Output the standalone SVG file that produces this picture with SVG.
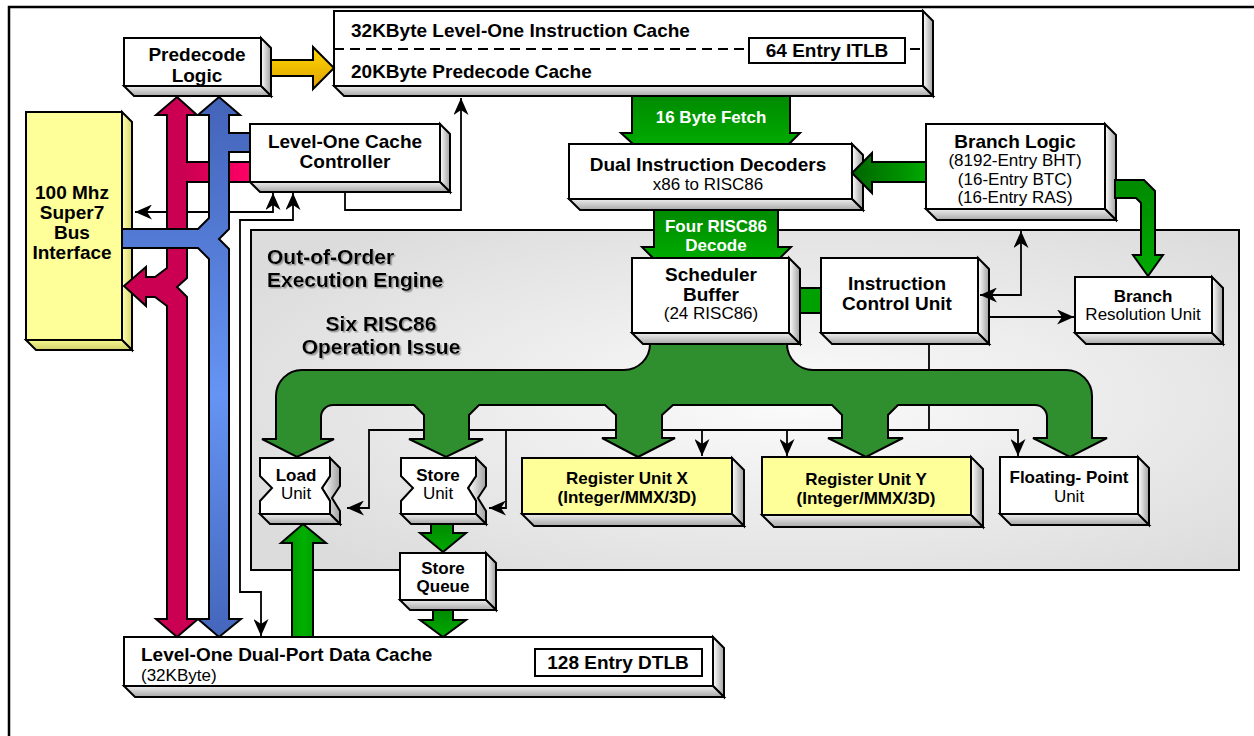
<svg xmlns="http://www.w3.org/2000/svg" width="1254" height="736" viewBox="0 0 1254 736">
<defs>
<style>
.f{fill:#fff;stroke:#000;stroke-width:2}
.fy{fill:#ffff99;stroke:#000;stroke-width:2}
.rs{fill:url(#gR);stroke:#000;stroke-width:2}
.bs{fill:url(#gBt);stroke:#000;stroke-width:2}
.rsy{fill:url(#gRY);stroke:#000;stroke-width:2}
.bsy{fill:url(#gBY);stroke:#000;stroke-width:2}
.pl{fill:#fff;stroke:#000;stroke-width:2}
text{font-family:"Liberation Sans",Arial,Helvetica,sans-serif;fill:#000}
.t19{font-size:19px;font-weight:bold}
.t17{font-size:17px;font-weight:bold}
.r17{font-size:17px}
.t21{font-size:21px;font-weight:bold}
.wt{font-size:17px;font-weight:bold;fill:#fff}
.m{text-anchor:middle}
.ln{fill:none;stroke:#000;stroke-width:1.8}
.ah{marker-end:url(#arr)}
.ah2{marker-start:url(#arr);marker-end:url(#arr)}
.th{stroke:#000;stroke-width:2}
</style>
<marker id="arr" viewBox="0 0 17 15" refX="17" refY="7.5" markerWidth="17" markerHeight="15" markerUnits="userSpaceOnUse" orient="auto-start-reverse">
<path d="M0,0 L17,7.5 L0,15 L5,7.5 Z" fill="#000"/>
</marker>
<linearGradient id="gR" x1="0" y1="0" x2="1" y2="0"><stop offset="0" stop-color="#ffffff"/><stop offset="1" stop-color="#a0a0a0"/></linearGradient>
<linearGradient id="gBt" x1="0" y1="0" x2="0" y2="1"><stop offset="0" stop-color="#eeeeee"/><stop offset="1" stop-color="#a8a8a8"/></linearGradient>
<linearGradient id="gRY" x1="0" y1="0" x2="1" y2="0"><stop offset="0" stop-color="#ffffb0"/><stop offset="1" stop-color="#d8d870"/></linearGradient>
<linearGradient id="gBY" x1="0" y1="0" x2="0" y2="1"><stop offset="0" stop-color="#f8f890"/><stop offset="1" stop-color="#d0d068"/></linearGradient>
<radialGradient id="gP" cx="0.55" cy="0.5" r="0.65"><stop offset="0" stop-color="#fbfbfb"/><stop offset="1" stop-color="#dcdcdc"/></radialGradient>
<linearGradient id="gG" x1="0" y1="0" x2="0" y2="1"><stop offset="0" stop-color="#008a00"/><stop offset="1" stop-color="#00aa00"/></linearGradient>
<linearGradient id="gGh" x1="0" y1="0" x2="1" y2="0"><stop offset="0" stop-color="#006400"/><stop offset="1" stop-color="#00a800"/></linearGradient>
<linearGradient id="gGv" x1="0" y1="0" x2="1" y2="0"><stop offset="0" stop-color="#008800"/><stop offset="0.5" stop-color="#00b000"/><stop offset="1" stop-color="#008800"/></linearGradient>
<linearGradient id="gY" x1="0" y1="0" x2="0" y2="1"><stop offset="0" stop-color="#ffd800"/><stop offset="1" stop-color="#e0a000"/></linearGradient>
<linearGradient id="gBlue" gradientUnits="userSpaceOnUse" x1="0" y1="97" x2="0" y2="637"><stop offset="0" stop-color="#4363b8"/><stop offset="0.55" stop-color="#6594f4"/><stop offset="1" stop-color="#4466bb"/></linearGradient>
<linearGradient id="gRed" gradientUnits="userSpaceOnUse" x1="187" y1="0" x2="250" y2="0"><stop offset="0" stop-color="#cc0052"/><stop offset="1" stop-color="#ff0066"/></linearGradient>
<filter id="sh" x="-5%" y="-20%" width="115%" height="150%"><feDropShadow dx="1.5" dy="1.5" stdDeviation="0.7" flood-color="#9a9a9a"/></filter>
</defs>

<rect id="frame" x="9" y="7" width="1262" height="745" fill="#fff" stroke="#000" stroke-width="2.5"/>

<g id="engine">
<rect x="251" y="230" width="988" height="340" fill="url(#gP)" stroke="#000" stroke-width="2"/>
<g filter="url(#sh)">
<text class="t21" x="267" y="264">Out-of-Order</text>
<text class="t21" x="267" y="287">Execution Engine</text>
<text class="t21 m" x="381" y="331">Six RISC86</text>
<text class="t21 m" x="381" y="354">Operation Issue</text>
</g>
</g>

<g id="nodes">
<g id="predecode-logic">
<polygon class="rs" points="261,38 271,48 271,96 261,86"/>
<polygon class="bs" points="124,86 134,96 271,96 261,86"/>
<rect class="f" x="124" y="38" width="137" height="48"/>
<text class="t19 m" x="197" y="61">Predecode</text>
<text class="t19 m" x="197" y="82">Logic</text>
</g>

<g id="instruction-cache">
<polygon class="rs" points="923,11 933,21 933,96 923,86"/>
<polygon class="bs" points="334,86 344,96 933,96 923,86"/>
<rect class="f" x="334" y="11" width="589" height="75"/>
<line x1="334" y1="49" x2="923" y2="49" stroke="#000" stroke-width="2" stroke-dasharray="10,6"/>
<text class="t19" x="351" y="37">32KByte Level-One Instruction Cache</text>
<text class="t19" x="351" y="78">20KByte Predecode Cache</text>
<rect class="pl" x="749" y="38" width="156" height="25"/>
<text class="t19 m" x="827" y="57">64 Entry ITLB</text>
</g>

<g id="cache-controller">
<polygon class="rs" points="440,124 450,134 450,192 440,182"/>
<polygon class="bs" points="250,182 260,192 450,192 440,182"/>
<rect class="f" x="250" y="124" width="190" height="58"/>
<text class="t19 m" x="345" y="148">Level-One Cache</text>
<text class="t19 m" x="345" y="168">Controller</text>
</g>

<g id="bus-interface">
<polygon class="rsy" points="122,112 132,122 132,350 122,340"/>
<polygon class="bsy" points="26,340 36,350 132,350 122,340"/>
<rect class="fy" x="26" y="112" width="96" height="228"/>
<text class="t19 m" x="72" y="199">100 Mhz</text>
<text class="t19 m" x="72" y="219">Super7</text>
<text class="t19 m" x="72" y="239">Bus</text>
<text class="t19 m" x="72" y="259">Interface</text>
</g>

<g id="decoders">
<polygon class="rs" points="852,144 863,155 863,210 852,199"/>
<polygon class="bs" points="569,199 580,210 863,210 852,199"/>
<rect class="f" x="569" y="144" width="283" height="55"/>
<text class="t19 m" x="708" y="171">Dual Instruction Decoders</text>
<text class="r17 m" x="708" y="190">x86 to RISC86</text>
</g>

<g id="branch-logic">
<polygon class="rs" points="1105,124 1116,135 1116,220 1105,209"/>
<polygon class="bs" points="926,209 937,220 1116,220 1105,209"/>
<rect class="f" x="926" y="124" width="179" height="85"/>
<text class="t19 m" x="1015" y="148">Branch Logic</text>
<text class="r17 m" x="1015" y="166">(8192-Entry BHT)</text>
<text class="r17 m" x="1015" y="185">(16-Entry BTC)</text>
<text class="r17 m" x="1015" y="203">(16-Entry RAS)</text>
</g>

<g id="scheduler-buffer">
<polygon class="rs" points="789,258 800,269 800,344 789,333"/>
<polygon class="bs" points="632,333 643,344 800,344 789,333"/>
<rect class="f" x="632" y="258" width="157" height="75"/>
<text class="t19 m" x="711" y="281">Scheduler</text>
<text class="t19 m" x="711" y="301">Buffer</text>
<text class="r17 m" x="711" y="319">(24 RISC86)</text>
</g>

<g id="instruction-control-unit">
<polygon class="rs" points="978,258 989,269 989,344 978,333"/>
<polygon class="bs" points="821,333 832,344 989,344 978,333"/>
<rect class="f" x="821" y="258" width="157" height="75"/>
<text class="t19 m" x="897" y="290">Instruction</text>
<text class="t19 m" x="897" y="310">Control Unit</text>
</g>

<g id="branch-resolution-unit">
<polygon class="rs" points="1212,277 1223,288 1223,344 1212,333"/>
<polygon class="bs" points="1075,333 1086,344 1223,344 1212,333"/>
<rect class="f" x="1075" y="277" width="137" height="56"/>
<text class="t17 m" x="1143" y="302">Branch</text>
<text class="r17 m" x="1143" y="320">Resolution Unit</text>
</g>

<g id="load-unit">
<polygon class="rs" points="330,458 340,468 340,486 332,498 340,511 340,524 330,514 330,501 322,488 330,476"/>
<polygon class="bs" points="260,514 270,524 340,524 330,514"/>
<polygon class="f" points="260,458 330,458 330,476 322,488 330,501 330,514 260,514 260,501 272,488 260,476"/>
<text class="t17 m" x="296" y="481">Load</text>
<text class="r17 m" x="296" y="499">Unit</text>
</g>

<g id="store-unit">
<polygon class="rs" points="476,458 486,468 486,486 478,498 486,511 486,524 476,514 476,501 468,488 476,476"/>
<polygon class="bs" points="401,514 411,524 486,524 476,514"/>
<polygon class="f" points="401,458 476,458 476,476 468,488 476,501 476,514 401,514 401,501 413,488 401,476"/>
<text class="t17 m" x="438" y="481">Store</text>
<text class="r17 m" x="438" y="499">Unit</text>
</g>

<g id="register-unit-x">
<polygon class="rs" points="732,458 744,470 744,526 732,514"/>
<polygon class="bs" points="522,514 534,526 744,526 732,514"/>
<rect class="fy" x="522" y="458" width="210" height="56"/>
<text class="t17 m" x="627" y="484">Register Unit X</text>
<text class="t17 m" x="627" y="503">(Integer/MMX/3D)</text>
</g>

<g id="register-unit-y">
<polygon class="rs" points="971,457 983,469 983,527 971,515"/>
<polygon class="bs" points="762,515 774,527 983,527 971,515"/>
<rect class="fy" x="762" y="457" width="209" height="58"/>
<text class="t17 m" x="866" y="485">Register Unit Y</text>
<text class="t17 m" x="866" y="504">(Integer/MMX/3D)</text>
</g>

<g id="floating-point-unit">
<polygon class="rs" points="1138,457 1149,468 1149,525 1138,514"/>
<polygon class="bs" points="1000,514 1011,525 1149,525 1138,514"/>
<rect class="f" x="1000" y="457" width="138" height="57"/>
<text class="t17 m" x="1069" y="483">Floating- Point</text>
<text class="r17 m" x="1069" y="502">Unit</text>
</g>

<g id="store-queue">
<polygon class="rs" points="486,553 496,563 496,610 486,600"/>
<polygon class="bs" points="400,600 410,610 496,610 486,600"/>
<rect class="f" x="400" y="553" width="86" height="47"/>
<text class="t17 m" x="443" y="574">Store</text>
<text class="t17 m" x="443" y="592">Queue</text>
</g>

<g id="data-cache">
<polygon class="rs" points="713,637 724,648 724,697 713,686"/>
<polygon class="bs" points="124,686 135,697 724,697 713,686"/>
<rect class="f" x="124" y="637" width="589" height="49"/>
<text class="t19" x="141" y="661">Level-One Dual-Port Data Cache</text>
<text class="r17" x="141" y="681">(32KByte)</text>
<rect class="pl" x="535" y="649" width="167" height="27"/>
<text class="t19 m" x="618" y="669">128 Entry DTLB</text>
</g>
</g>

<g id="connectors">
<path class="ln ah2" d="M135,212 H273 V193"/>
<path class="ln ah2" d="M293,193 V220 H240 V592 H261 V636"/>
<path class="ln ah" d="M345,192 V210 H461 V98"/>
<path class="ln ah2" d="M980,295 H1021 V231"/>
<path class="ln ah" d="M989,317 H1074"/>
<path class="ln" d="M929,344 V430"/>
<path class="ln ah2" d="M347,508 H369 V430 H1018 V456"/>
<path class="ln" d="M506,430 V508 H489" marker-end="url(#arr)"/>
<path class="ln ah" d="M702,430 V456"/>
<path class="ln ah" d="M787,430 V456"/>

<path class="th" fill="url(#gRed)" d="M177,97 L197,115 H187 V162 H250 V182 H187 V278 L177,287 L187,297 V619 H198 L177,637 L156,619 H167 V306 L155,297 H146 V306 L124,286 L146,267 V277 H155 L167,268 V115 H156 Z"/>
<path class="th" fill="url(#gBlue)" d="M219,97 L240,115 H229 V133 H250 V152 H229 V229 L219,239 L229,249 V619 H241 L219,637 L198,619 H209 V259 L198,248 H122 V229 H198 L209,218 V115 H198 Z"/>
<path class="th" fill="url(#gY)" d="M271,60 H313 V47 L334,68 L313,89 V76 H271 Z"/>

<path class="th" fill="url(#gG)" d="M632,96 H790 V133 H800 L789,144 H633 L621,133 H632 Z"/>
<text class="wt m" x="711" y="123">16 Byte Fetch</text>
<path class="th" fill="url(#gG)" d="M654,210 H778 V247 H791 L780,258 H653 L642,247 H654 Z"/>
<text class="wt m" x="716" y="232">Four RISC86</text>
<text class="wt m" x="716" y="251">Decode</text>
<path class="th" fill="url(#gGh)" d="M926,162 H872 V153 L852,173 L872,193 V182 H926 Z"/>
<path class="th" fill="url(#gG)" d="M1115,180 H1144 L1155,191 V255 H1163 L1148,276 L1133,255 H1141 V203 L1136,198 H1115 Z"/>
<rect class="th" fill="#00a000" x="800" y="288" width="21" height="25"/>

<path class="th" fill="#2f8f2f" d="M650,344 A26,26 0 0 1 624,370 H302 A26,26 0 0 0 276,396 V439 H262 L297,457 L334,439 H321 V417 A12,12 0 0 1 333,405 H414 L424,415 V439 H409 L446,457 L483,439 H469 V415 L479,405 H605 L616,415 V438 H602 L638,457 L675,438 H662 V415 L673,405 H832 L842,415 V438 H828 L866,457 L903,438 H888 V415 L898,405 H1035 A12,12 0 0 1 1047,417 V438 H1033 L1070,457 L1107,438 H1092 V396 A26,26 0 0 0 1066,370 H813 A26,26 0 0 1 787,344 Z"/>

<path class="th" fill="url(#gGv)" d="M292,637 V543 H281 L303,524 L326,543 H313 V637 Z"/>
<path class="th" fill="url(#gG)" d="M431,524 H453 V533 H466 L443,552 L420,533 H431 Z"/>
<path class="th" fill="url(#gG)" d="M433,610 H453 V620 H466 L443,637 L420,620 H433 Z"/>
</g>
</svg>
